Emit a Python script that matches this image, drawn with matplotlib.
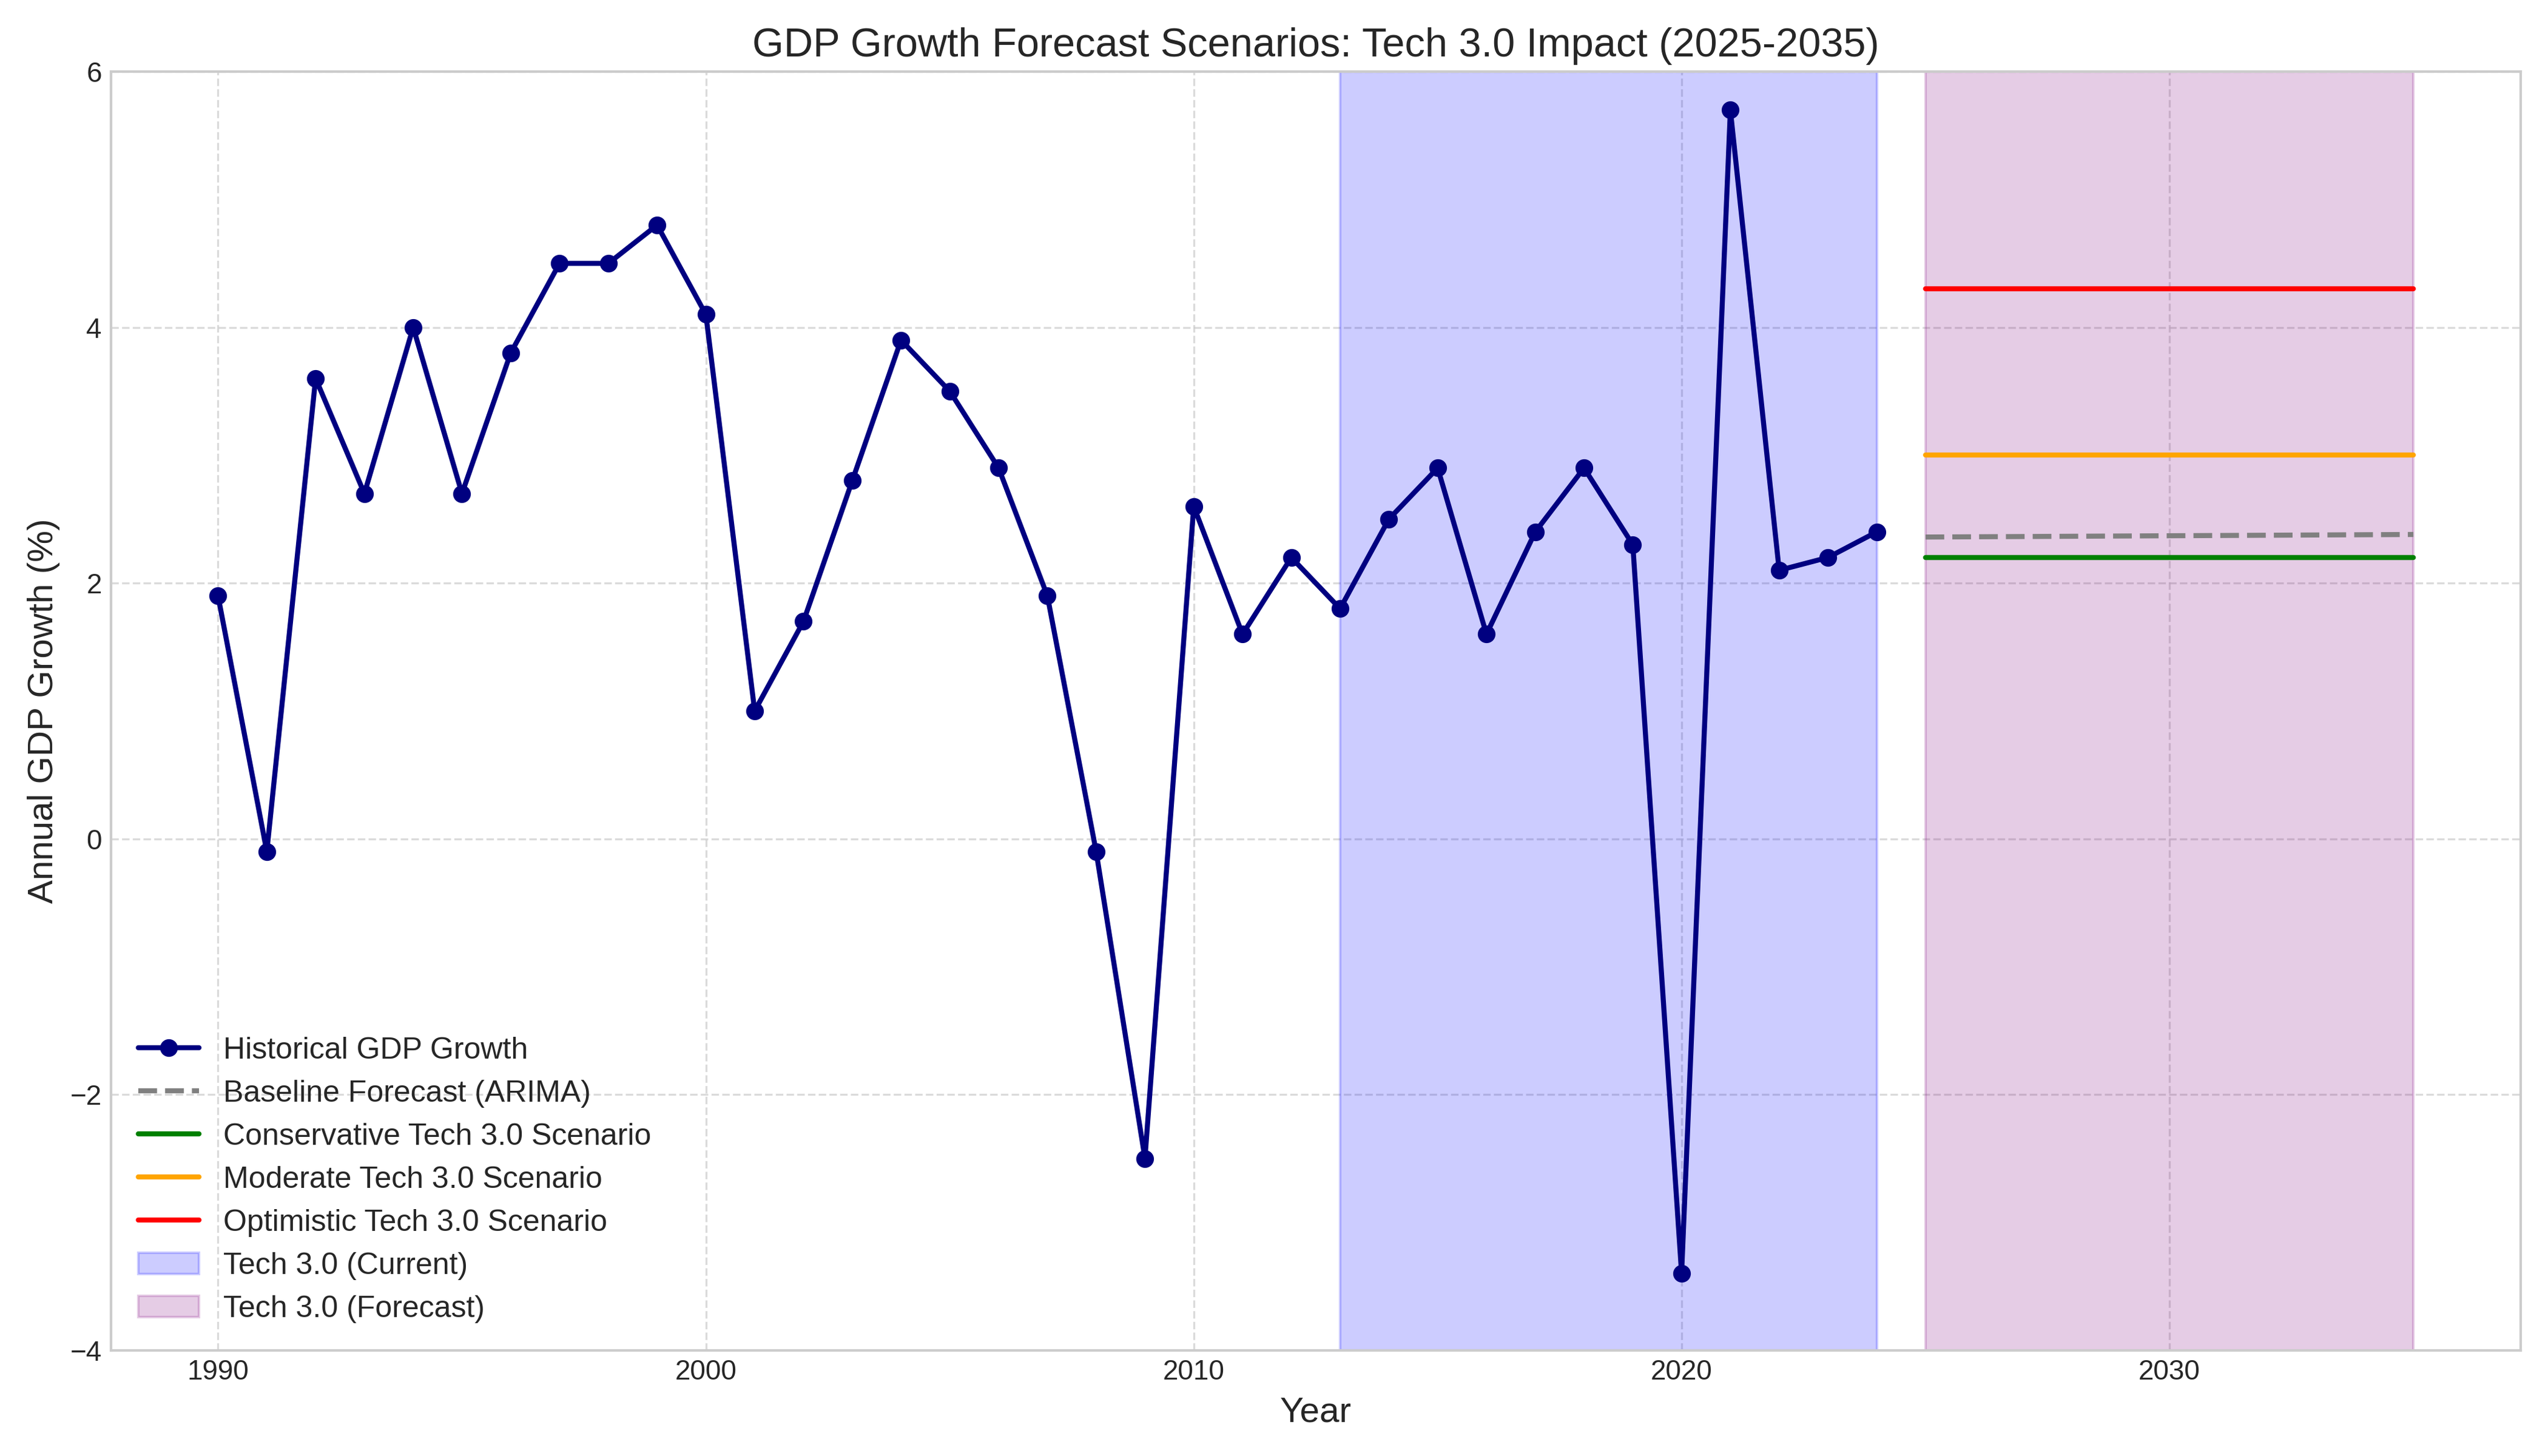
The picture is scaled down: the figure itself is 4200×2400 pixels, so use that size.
import numpy as np
import matplotlib
matplotlib.use("Agg")
import matplotlib.pyplot as plt

years = list(range(1990, 2025))
gdp = [1.9, -0.1, 3.6, 2.7, 4.0, 2.7, 3.8, 4.5, 4.5, 4.8, 4.1, 1.0, 1.7, 2.8, 3.9,
       3.5, 2.9, 1.9, -0.1, -2.5, 2.6, 1.6, 2.2, 1.8, 2.5, 2.9, 1.6, 2.4, 2.9, 2.3,
       -3.4, 5.7, 2.1, 2.2, 2.4]
fc_years = list(range(2025, 2036))
baseline = [2.36, 2.362, 2.364, 2.366, 2.368, 2.37, 2.372, 2.374, 2.376, 2.378, 2.38]
conservative = 2.2
moderate = 3.0
optimistic = 4.3

plt.style.use("seaborn-v0_8-whitegrid")
fig, ax = plt.subplots(figsize=(14, 8), dpi=300)

ax.plot(years, gdp, "o-", color="navy", lw=2, ms=6, label="Historical GDP Growth")
ax.plot(fc_years, baseline, "--", color="gray", lw=2, label="Baseline Forecast (ARIMA)")
ax.plot(fc_years, [conservative] * len(fc_years), color="green", lw=2, label="Conservative Tech 3.0 Scenario")
ax.plot(fc_years, [moderate] * len(fc_years), color="orange", lw=2, label="Moderate Tech 3.0 Scenario")
ax.plot(fc_years, [optimistic] * len(fc_years), color="red", lw=2, label="Optimistic Tech 3.0 Scenario")
ax.axvspan(2013, 2024, color="blue", alpha=0.2, label="Tech 3.0 (Current)")
ax.axvspan(2025, 2035, color="purple", alpha=0.2, label="Tech 3.0 (Forecast)")

ax.set_ylim(-4, 6)
ax.set_xlim(1987.8, 2037.2)
ax.grid(True, linestyle="--", alpha=0.7)
for s in ax.spines.values():
    s.set_visible(True)
    s.set_color("#cccccc")
ax.set_title("GDP Growth Forecast Scenarios: Tech 3.0 Impact (2025-2035)", fontsize=16)
ax.set_xlabel("Year", fontsize=14)
ax.set_ylabel("Annual GDP Growth (%)", fontsize=14)
ax.tick_params(labelsize=11)
ax.legend(loc="lower left", fontsize=12)
plt.tight_layout()
plt.savefig("out.png")
